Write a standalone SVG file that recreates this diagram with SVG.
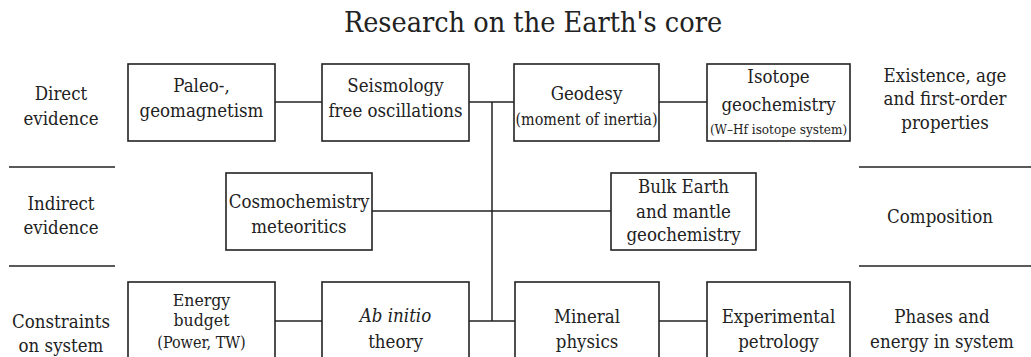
<svg xmlns="http://www.w3.org/2000/svg" width="1031" height="357" viewBox="0 0 1031 357">
<style>
text{font-family:"DejaVu Serif Condensed","DejaVu Serif",serif;font-stretch:condensed;fill:#222;text-anchor:middle;font-size:18.5px}
.title{font-size:28.5px}
.sm{font-size:16px}
.xs{font-size:13.4px}
.it{font-style:italic}
.box{fill:#fff;stroke:#222;stroke-width:1.6}
.ln{stroke:#222;stroke-width:1.5;fill:none}
</style>
<rect width="1031" height="357" fill="#fff"/>
<text class="title" x="533" y="32">Research on the Earth's core</text>
<g id="labels">
<text x="61" y="100">Direct</text><text x="61" y="125">evidence</text>
<text x="61" y="210">Indirect</text><text x="61" y="234">evidence</text>
<text x="61" y="328">Constraints</text><text x="61" y="352">on system</text>
<text x="945" y="82">Existence, age</text><text x="945" y="105">and first-order</text><text x="945" y="129">properties</text>
<text x="940" y="223">Composition</text>
<text x="942" y="323">Phases and</text><text x="942" y="348">energy in system</text>
</g>
<g id="dividers">
<line class="ln" x1="9" y1="167" x2="115" y2="167"/><line class="ln" x1="9" y1="266" x2="115" y2="266"/>
<line class="ln" x1="859" y1="167" x2="1031" y2="167"/><line class="ln" x1="859" y1="266" x2="1031" y2="266"/>
</g>
<g id="connectors">
<line class="ln" x1="275" y1="102" x2="322" y2="102"/>
<line class="ln" x1="469" y1="102" x2="514" y2="102"/>
<line class="ln" x1="659" y1="102" x2="707" y2="102"/>
<line class="ln" x1="492" y1="102" x2="492" y2="321"/>
<line class="ln" x1="372" y1="211" x2="611" y2="211"/>
<line class="ln" x1="275" y1="321" x2="322" y2="321"/>
<line class="ln" x1="469" y1="321" x2="515" y2="321"/>
<line class="ln" x1="659" y1="321" x2="707" y2="321"/>
</g>
<g id="paleo"><rect class="box" x="128" y="64" width="147" height="77"/><text x="201.5" y="92">Paleo-,</text><text x="201.5" y="117">geomagnetism</text></g>
<g id="seismology"><rect class="box" x="322" y="64" width="147" height="77"/><text x="395.5" y="92">Seismology</text><text x="395.5" y="117">free oscillations</text></g>
<g id="geodesy"><rect class="box" x="514" y="64" width="145" height="77"/><text x="586.5" y="100">Geodesy</text><text class="sm" x="586.5" y="125">(moment of inertia)</text></g>
<g id="isotope"><rect class="box" x="707" y="64" width="143" height="77"/><text x="778.5" y="83">Isotope</text><text x="778.5" y="111">geochemistry</text><text class="xs" x="778.5" y="134">(W–Hf isotope system)</text></g>
<g id="cosmo"><rect class="box" x="226" y="173" width="146" height="77"/><text x="299" y="208">Cosmochemistry</text><text x="299" y="233">meteoritics</text></g>
<g id="bulk"><rect class="box" x="611" y="173" width="145" height="77"/><text x="683.5" y="193">Bulk Earth</text><text x="683.5" y="218">and mantle</text><text x="683.5" y="241">geochemistry</text></g>
<g id="energy"><rect class="box" x="128" y="282" width="147" height="80"/><text x="201.5" y="306" style="font-size:17.5px">Energy</text><text x="201.5" y="326" style="font-size:17.5px">budget</text><text class="sm" x="201.5" y="348">(Power, TW)</text></g>
<g id="abinitio"><rect class="box" x="322" y="282" width="147" height="80"/><text class="it" x="395.5" y="322">Ab initio</text><text x="395.5" y="348">theory</text></g>
<g id="mineral"><rect class="box" x="515" y="282" width="144" height="80"/><text x="587" y="323">Mineral</text><text x="587" y="348">physics</text></g>
<g id="petrology"><rect class="box" x="707" y="282" width="143" height="80"/><text x="778.5" y="323">Experimental</text><text x="778.5" y="348">petrology</text></g>
</svg>
